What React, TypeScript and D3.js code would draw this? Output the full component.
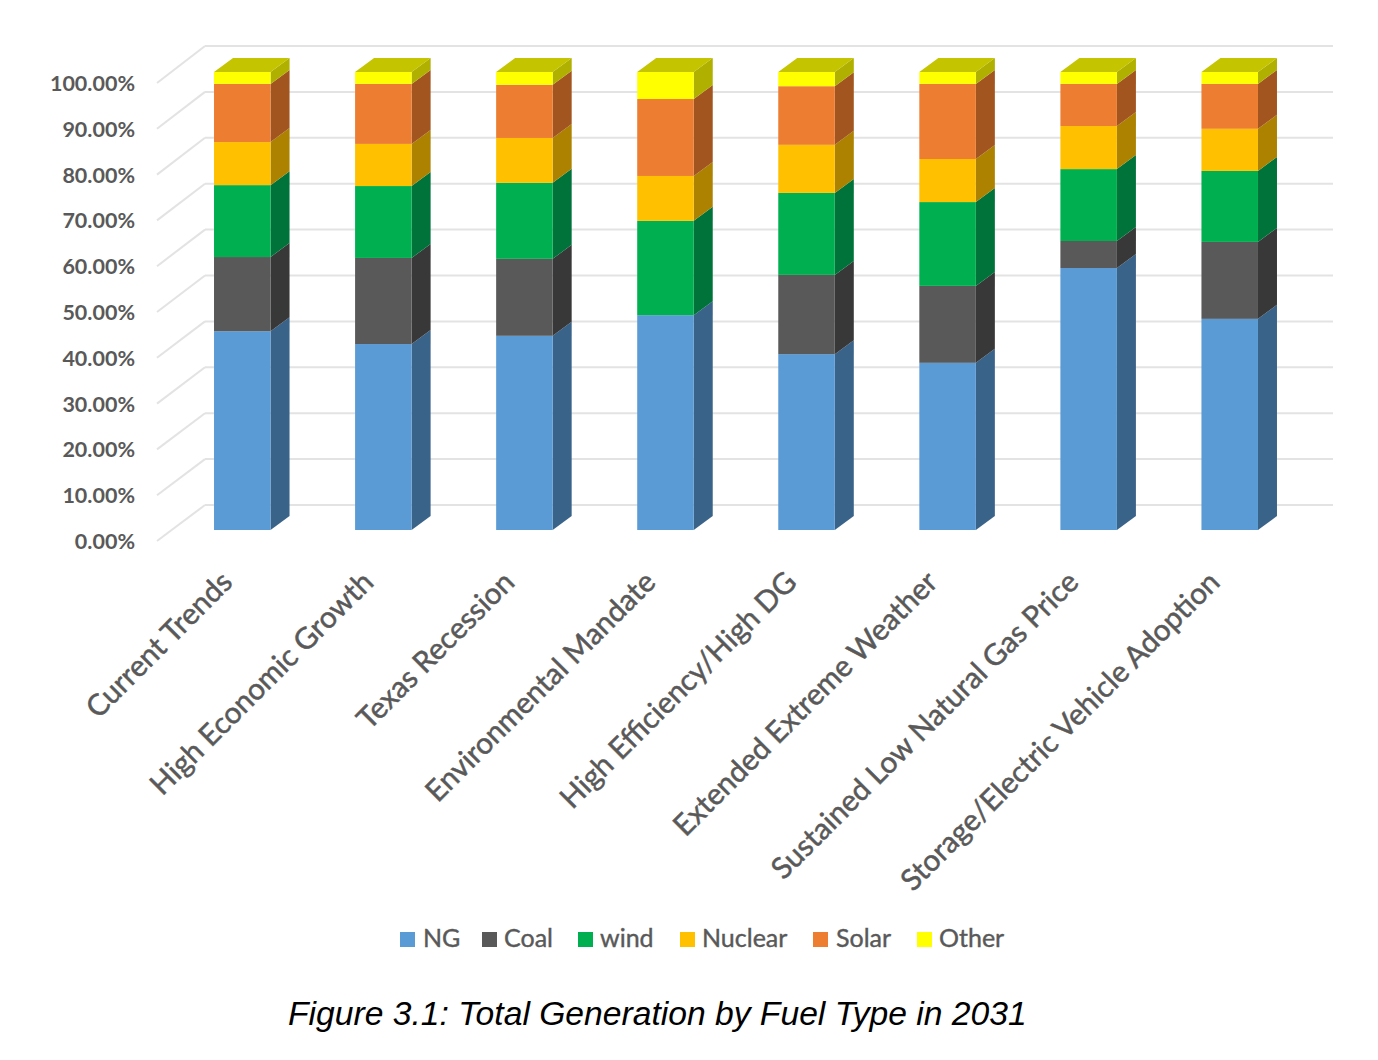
import React, {useEffect, useRef} from 'react';
import * as d3 from "d3"

const scenarios = ["Current Trends","High Economic Growth","Texas Recession","Environmental Mandate","High Efficiency/High DG","Extended Extreme Weather","Sustained Low Natural Gas Price","Storage/Electric Vehicle Adoption"]
const fuels = ["NG","Coal","wind","Nuclear","Solar","Other"]
const yTicks = [0,10,20,30,40,50,60,70,80,90,100]

// share of generation per scenario
const ng = [43.4,40.6,42.4,46.9,38.4,36.5,57.2,46.1]
const coal = [16.2,18.8,16.8,0,17.3,16.8,5.9,16.8]
const wind = [15.7,15.7,16.6,20.6,17.9,18.3,15.7,15.5]
const nuclear = [9.4,9.2,9.8,9.8,10.5,9.4,9.4,9.2]
const solar = [12.7,13.1,11.6,16.8,12.8,16.4,9.2,9.8]
const other = [2.6,2.6,2.8,5.9,3.1,2.6,2.6,2.6]

const frontColors = ["#5b9bd5","#595959","#00b050","#ffc000","#ed7d31","#ffff00"]
const sideColors = ["#3a638a","#383838","#00733a","#ad8200","#a3551f","#b0b000"]
const topColor = "#c4c400"
const gray = "#595959"

const legendSwatchX = [400,482,578,680,813,917]
const legendTextX = [423,504,600,702,836,939]

const depth = {x: 19, y: -14}

export default function App() {
  const ref = useRef<SVGSVGElement>(null)

  useEffect(() => {
    const svg = d3.select(ref.current)
    svg.selectAll("*").remove()

    const rows = scenarios.map((s, i) => ({
      name: s, NG: ng[i], Coal: coal[i], wind: wind[i], Nuclear: nuclear[i], Solar: solar[i], Other: other[i]
    }))
    const stacked = d3.stack<any>().keys(fuels)(rows)

    const x = d3.scaleBand().domain(scenarios).range([172,1300]).paddingInner(84.5/141).paddingOuter(42/141)
    const yFront = d3.scaleLinear().domain([0,100]).range([530,72])
    const yBack = d3.scaleLinear().domain([0,100]).range([505,46])
    const yLabel = d3.scaleLinear().domain([0,100]).range([541,83])

    // back wall and side wall lines
    const grid = svg.append("g").attr("stroke","#e3e3e3").attr("stroke-width",2).attr("fill","none")
    grid.selectAll("line.back").data(yTicks).join("line")
      .attr("class","back")
      .attr("x1",205).attr("x2",1333)
      .attr("y1",d => yBack(d)).attr("y2",d => yBack(d))
    grid.selectAll("line.wall").data(yTicks).join("line")
      .attr("class","wall")
      .attr("x1",157).attr("x2",205)
      .attr("y1",d => yLabel(d)).attr("y2",d => yBack(d))

    // y labels
    svg.append("g").selectAll("text").data(yTicks).join("text")
      .attr("x",135).attr("y",d => yLabel(d) + 0.5)
      .attr("dy","0.35em")
      .attr("text-anchor","end")
      .attr("font-family","Lato")
      .attr("font-weight","bold")
      .attr("font-size",21.5)
      .attr("fill",gray)
      .text(d => d3.format(".2f")(d) + "%")

    // bars
    const bw = x.bandwidth()
    const bars = svg.append("g")
    stacked.forEach((layer, k) => {
      layer.forEach((seg, i) => {
        if (seg[1] - seg[0] <= 0) return
        const x0 = x(scenarios[i]) as number
        const top = yFront(seg[1]), bottom = yFront(seg[0])
        bars.append("path")
          .attr("fill",sideColors[k])
          .attr("d",`M${x0+bw},${top}L${x0+bw+depth.x},${top+depth.y}L${x0+bw+depth.x},${bottom+depth.y}L${x0+bw},${bottom}Z`)
        bars.append("rect")
          .attr("x",x0).attr("y",top)
          .attr("width",bw).attr("height",bottom-top)
          .attr("fill",frontColors[k])
        if (k === fuels.length - 1) {
          bars.append("path")
            .attr("fill",topColor)
            .attr("d",`M${x0},${top}L${x0+depth.x},${top+depth.y}L${x0+bw+depth.x},${top+depth.y}L${x0+bw},${top}Z`)
        }
      })
    })

    // category labels
    svg.append("g").selectAll("text").data(scenarios).join("text")
      .attr("transform",d => `translate(${(x(d) as number)+20},${584}) rotate(-45)`)
      .attr("text-anchor","end")
      .attr("font-family","Lato")
      .attr("font-size",29.6)
      .attr("fill",gray)
      .attr("stroke",gray)
      .attr("stroke-width",0.5)
      .text(d => d)

    // legend
    const legend = svg.append("g")
    legend.selectAll("rect").data(fuels).join("rect")
      .attr("x",(d,i) => legendSwatchX[i]).attr("y",932)
      .attr("width",15).attr("height",15)
      .attr("fill",(d,i) => frontColors[i])
    legend.selectAll("text").data(fuels).join("text")
      .attr("x",(d,i) => legendTextX[i]).attr("y",947)
      .attr("font-family","Lato")
      .attr("font-size",25)
      .attr("fill",gray)
      .attr("stroke",gray)
      .attr("stroke-width",0.4)
      .text(d => d)

    // caption
    svg.append("text")
      .attr("x",288).attr("y",1025)
      .attr("font-family","Liberation Sans")
      .attr("font-style","italic")
      .attr("font-size",33.65)
      .attr("fill","#000")
      .text("Figure 3.1: Total Generation by Fuel Type in 2031")
  }, [])

  return (
    <svg ref={ref} width={1378} height={1060} style={{position:"absolute",left:0,top:0,background:"#fff"}} />
  )
}
